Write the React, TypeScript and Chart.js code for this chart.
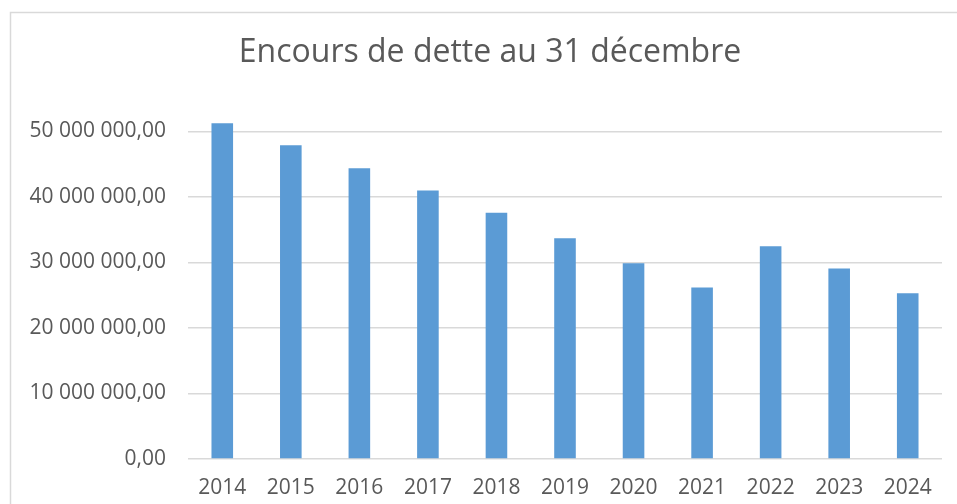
import React, { useEffect, useRef } from "react";
import { Chart, registerables } from "chart.js";

Chart.register(...registerables);

const categories = ["2014", "2015", "2016", "2017", "2018", "2019", "2020", "2021", "2022", "2023", "2024"];
const debtValues = [51250000, 47900000, 44400000, 41000000, 37600000, 33700000, 29900000, 26200000, 32500000, 29100000, 25300000];
const titleText = "Encours de dette au 31 décembre";

function fmt(v: number): string {
  const fixed = v.toFixed(2);
  const [intPart, dec] = fixed.split(".");
  const withSpaces = intPart.replace(/\B(?=(\d{3})+(?!\d))/g, " ");
  return withSpaces + "," + dec;
}

const frameAndTitlePlugin = {
  id: "frameAndTitle",
  beforeDraw(chart: any) {
    const ctx = chart.ctx;
    ctx.save();
    ctx.fillStyle = "#ffffff";
    ctx.fillRect(0, 0, chart.width, chart.height);
    ctx.strokeStyle = "#d9d9d9";
    ctx.lineWidth = 1.5;
    ctx.strokeRect(10.5, 12.5, chart.width + 20, chart.height + 20);
    ctx.fillStyle = "#595959";
    ctx.font = "32px 'Open Sans', sans-serif";
    ctx.textAlign = "center";
    ctx.textBaseline = "alphabetic";
    ctx.fillText(titleText, 490, 62);
    ctx.restore();
  },
};

export default function App() {
  const ref = useRef<HTMLCanvasElement | null>(null);
  useEffect(() => {
    if (!ref.current) return;
    const chart = new Chart(ref.current, {
      type: "bar",
      data: {
        labels: categories,
        datasets: [
          {
            label: "Encours",
            data: debtValues,
            backgroundColor: "#5B9BD5",
            borderWidth: 0,
            barPercentage: 0.315,
            categoryPercentage: 1,
            clip: false as any,
          },
        ],
      },
      options: {
        animation: false,
        responsive: false,
        maintainAspectRatio: false,
        layout: { padding: { left: 0, right: 15, top: 131.5, bottom: 0 } },
        plugins: {
          legend: { display: false },
          tooltip: { enabled: false },
          title: { display: false },
        },
        scales: {
          x: {
            grid: { display: false },
            border: { display: false },
            ticks: {
              color: "#595959",
              font: { family: "'Open Sans', sans-serif", size: 21 },
              padding: 8,
              maxRotation: 0,
            },
            afterFit(scale: any) {
              scale.height = 45;
            },
          },
          y: {
            min: 0,
            max: 50000000,
            grid: { color: "#d9d9d9", lineWidth: 1.5, drawTicks: false },
            border: { display: false },
            ticks: {
              stepSize: 10000000,
              color: "#595959",
              font: { family: "'Open Sans', sans-serif", size: 21 },
              padding: 22,
              callback: (v: any) => fmt(Number(v)),
            },
            afterFit(scale: any) {
              scale.width = 188;
            },
          },
        },
      },
      plugins: [frameAndTitlePlugin],
    });
    return () => chart.destroy();
  }, []);
  return (
    <div style={{ position: "fixed", left: 0, top: 0, width: 957, height: 504, background: "#fff" }}>
      <canvas ref={ref} width={957} height={504} style={{ display: "block" }} />
    </div>
  );
}
